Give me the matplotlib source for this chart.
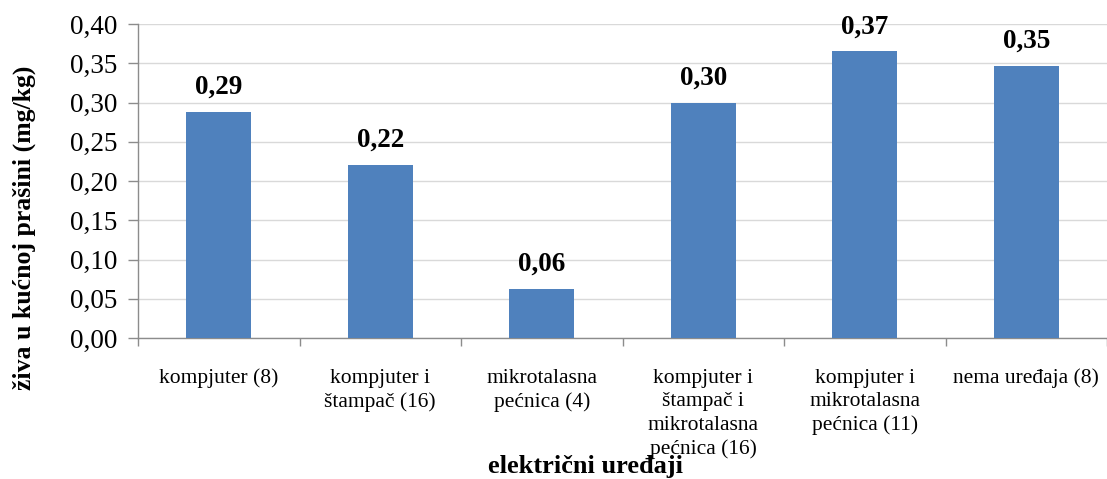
import numpy as np
import matplotlib
matplotlib.use('Agg')
import matplotlib.pyplot as plt
from matplotlib.ticker import FuncFormatter

# Data
categories = ['kompjuter (8)', 'kompjuter i\nštampač (16)', 'mikrotalasna\npećnica (4)',
              'kompjuter i\nštampač i\nmikrotalasna\npećnica (16)',
              'kompjuter i\nmikrotalasna\npećnica (11)', 'nema uređaja (8)']
values = [0.288, 0.221, 0.063, 0.300, 0.365, 0.347]
value_labels = ['0,29', '0,22', '0,06', '0,30', '0,37', '0,35']
y_ticks = [0.00, 0.05, 0.10, 0.15, 0.20, 0.25, 0.30, 0.35, 0.40]

plt.rcParams['font.family'] = ['Liberation Serif', 'DejaVu Serif']

W, H = 1107, 479
fig = plt.figure(figsize=(W / 100, H / 100), dpi=100)
ax = fig.add_axes([138 / W, 141 / H, (W - 138) / W, 314 / H])

x = np.arange(len(categories))
ax.bar(x, values, width=0.4, color='#4F81BD', zorder=3)

for xi, v, lab in zip(x, values, value_labels):
    ax.text(xi, v + 0.015, lab, ha='center', va='bottom', fontsize=19.5,
            fontweight='bold', zorder=4)

ax.set_ylim(0, 0.40)
ax.set_xlim(-0.5, 5.445)
ax.set_yticks(y_ticks)
ax.yaxis.set_major_formatter(FuncFormatter(lambda v, p: f'{v:.2f}'.replace('.', ',')))
ax.tick_params(axis='y', labelsize=19.5, length=7, width=1, color='#8C8C8C', pad=8)
ax.grid(axis='y', color='#D9D9D9', linewidth=1, zorder=0)

ax.set_xticks(x)
ax.set_xticklabels(categories, fontsize=15.5, linespacing=1.32, va='top')
ax.tick_params(axis='x', which='major', length=0, pad=22)
ax.set_xticks(np.arange(-0.5, 6.0, 1.0), minor=True)
ax.tick_params(axis='x', which='minor', length=6, width=1, color='#8C8C8C')

for s in ['top', 'right']:
    ax.spines[s].set_visible(False)
for s in ['left', 'bottom']:
    ax.spines[s].set_color('#8C8C8C')
    ax.spines[s].set_linewidth(1)

fig.text(24 / W, 1 - 228 / H, 'živa u kućnoj prašini (mg/kg)', rotation=90,
         ha='center', va='center', fontsize=18.5, fontweight='bold')
fig.text(585 / W, 1 - 467 / H, 'električni uređaji', ha='center', va='center',
         fontsize=19, fontweight='bold')

fig.savefig('out.png', dpi=100)
